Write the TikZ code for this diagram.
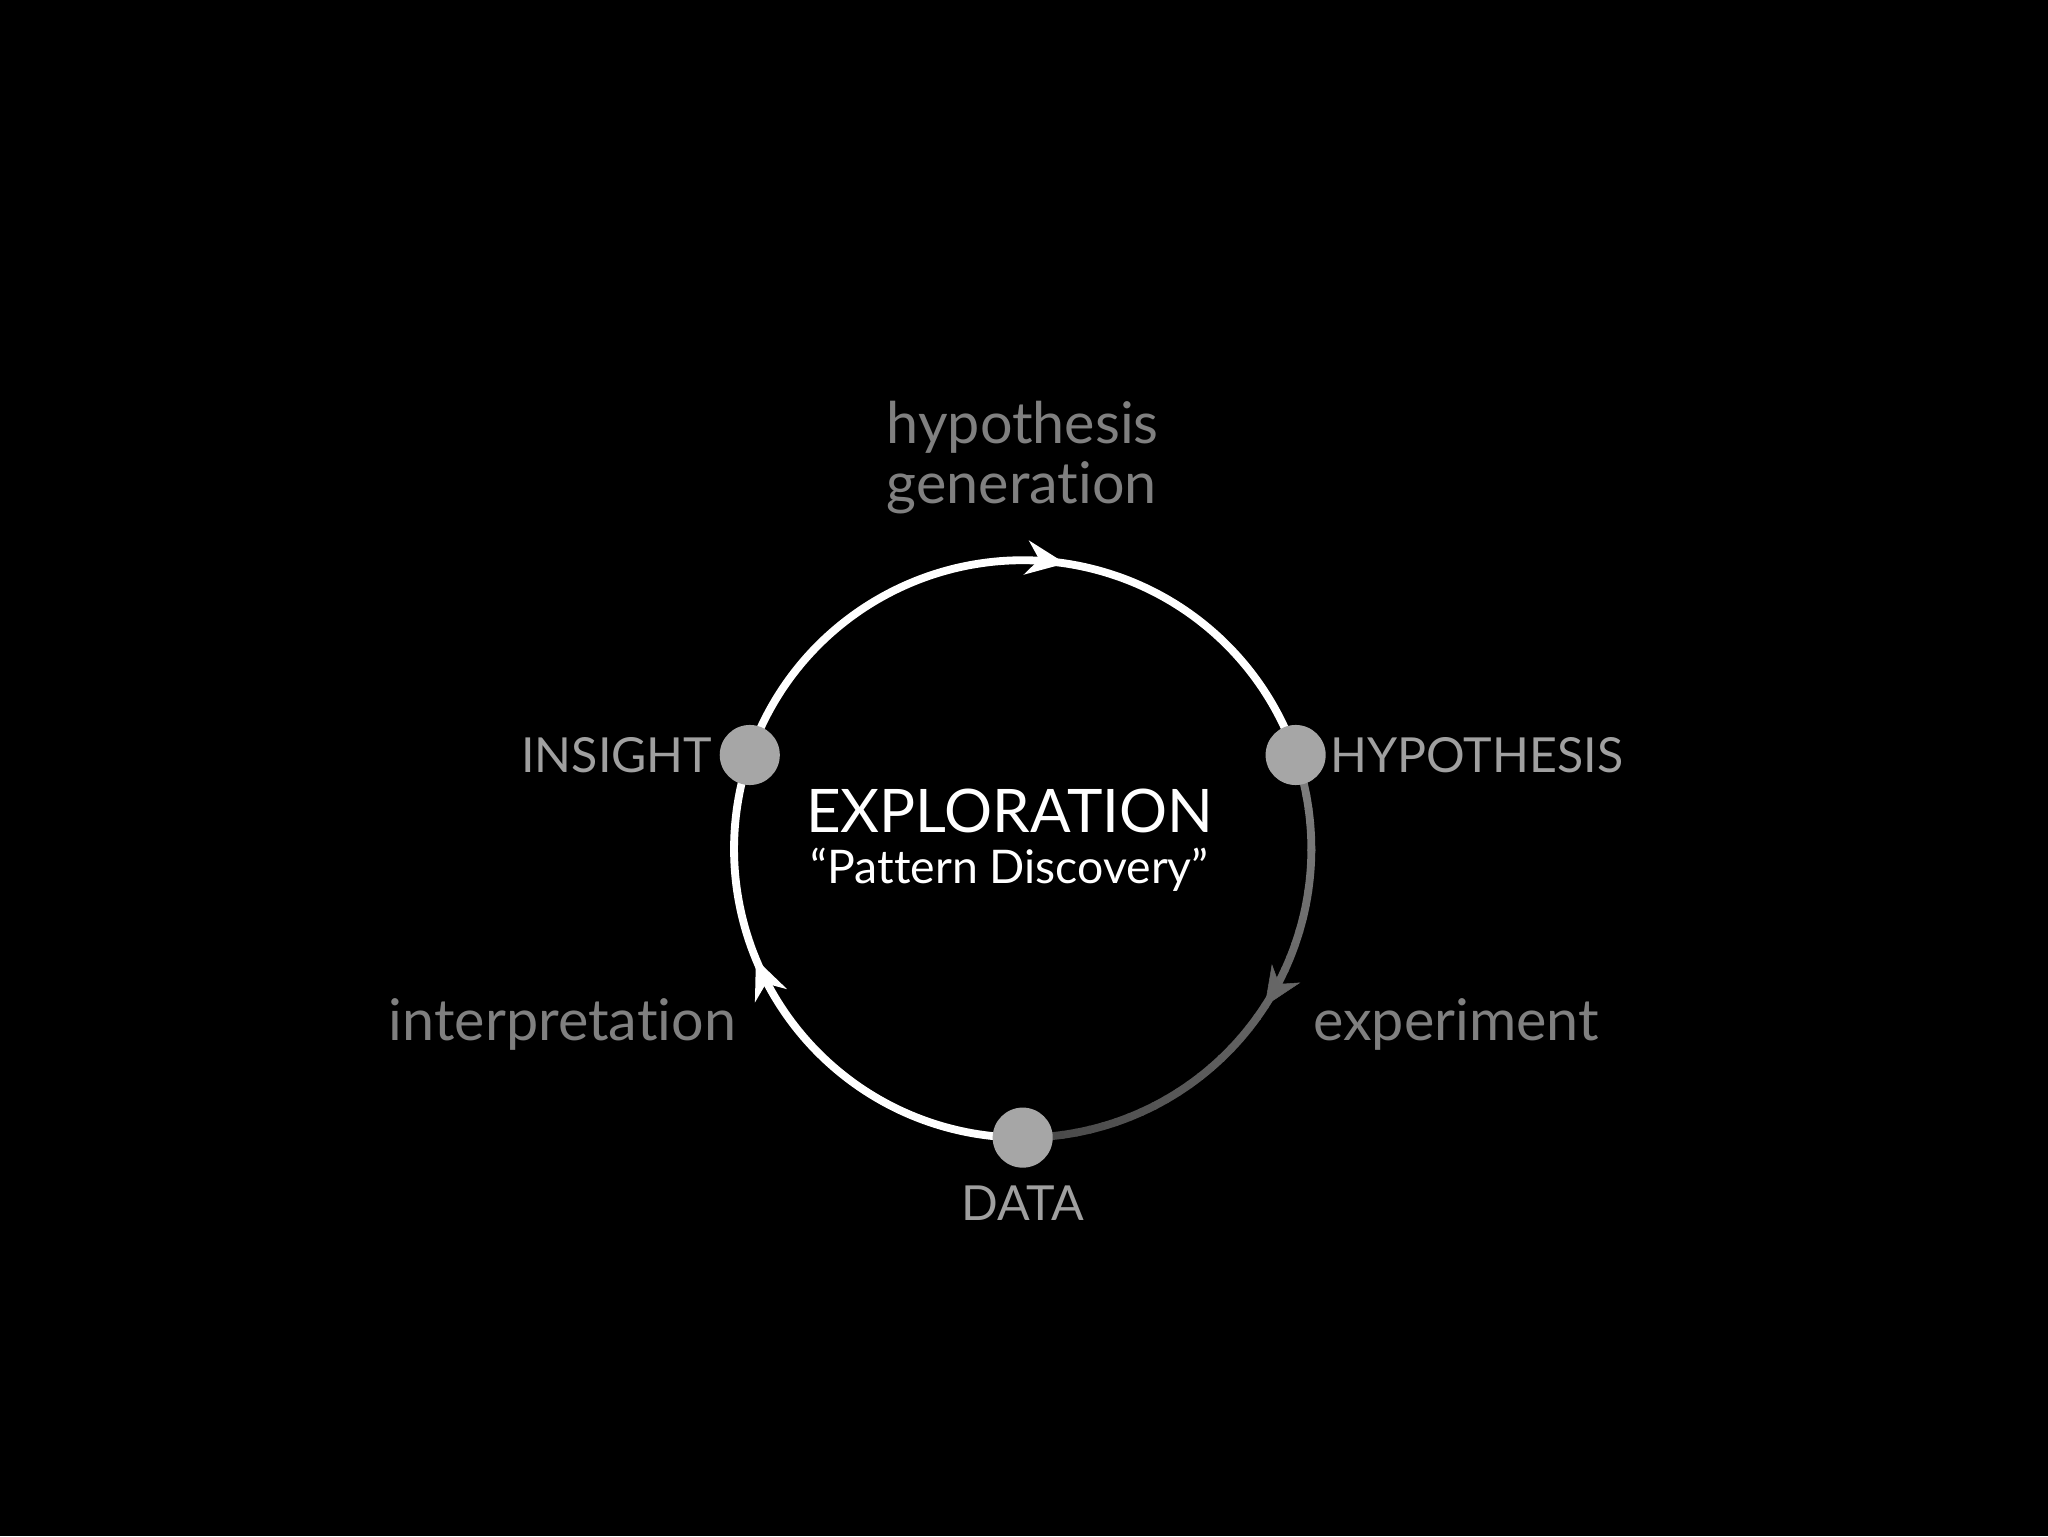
\documentclass[tikz,border=0pt]{standalone}
\usepackage{fontspec}
\setmainfont{Lato}[Ligatures={NoCommon}]
\usetikzlibrary{decorations.markings,arrows.meta,calc}
\definecolor{dotgray}{HTML}{A6A6A6}
\definecolor{lblgray}{HTML}{A0A0A0}
\begin{document}
\begin{tikzpicture}[x=1pt,y=1pt,
  ring/.style={line width=6pt,white},
  dot/.style={circle,fill=dotgray,minimum size=46pt,inner sep=0pt},
  caps/.style={text=lblgray,font=\fontsize{37}{40}\selectfont},
  lower/.style={text=lblgray!80!black,font=\fontsize{44}{46}\selectfont},
  tip/.style={postaction={decorate,decoration={markings,mark=at position #1 with {\arrow{Stealth[length=30pt,width=26pt]}}}}}]
\fill[black] (0,0) rectangle (1568,1176);
\useasboundingbox (0,0) rectangle (1568,1176);
\def\R{221}
\coordinate (c) at (783,526);
\coordinate (hyp) at ($(c)+(19:\R)$);
\coordinate (ins) at ($(c)+(161:\R)$);
\coordinate (dat) at ($(c)+(270:\R)$);
\draw[ring,tip=0.56] (ins) arc[start angle=161,end angle=19,radius=\R];
\draw[ring,tip=0.62] (dat) arc[start angle=270,end angle=161,radius=\R];
\foreach \i in {0,...,39}{
  \pgfmathsetmacro\a{19-\i*109/40}
  \pgfmathsetmacro\b{19-(\i+1)*109/40-0.3}
  \pgfmathtruncatemacro\p{100-\i*1.6}
  \draw[line width=6pt,color=gray!\p!black!70!gray] ($(c)+(\a:\R)$) arc[start angle=\a,end angle=\b,radius=\R];
}
\path[postaction={decorate,decoration={markings,mark=at position 0.5 with {\arrow[gray!80!black]{Stealth[length=30pt,width=26pt]}}}}] ($(c)+(-10:\R)$) arc[start angle=-10,end angle=-56,radius=\R];
\node[dot] (nh) at (hyp) {};
\node[dot] (ni) at (ins) {};
\node[dot] (nd) at (dat) {};
\node[caps,anchor=west] (lh) at (nh.east) {HYPOTHESIS};
\node[caps,anchor=east] (li) at ($(ni.west)+(-2,0)$) {INSIGHT};
\node[caps,anchor=north] (ld) at ($(nd.south)+(0,-10)$) {DATA};
\node[lower,align=left] (lg) at (783,826) {hypothesis\\generation};
\node[lower,anchor=west] (le) at (1002,392) {experiment};
\node[lower,anchor=east] (lt) at (567,392) {interpretation};
\node[white,font=\fontsize{46}{48}\selectfont] (ex) at (773,555) {EXPLORATION};
\node[white,font=\fontsize{35.5}{38}\selectfont] (pd) at (773,510) {“Pattern Discovery”};
\end{tikzpicture}
\end{document}
